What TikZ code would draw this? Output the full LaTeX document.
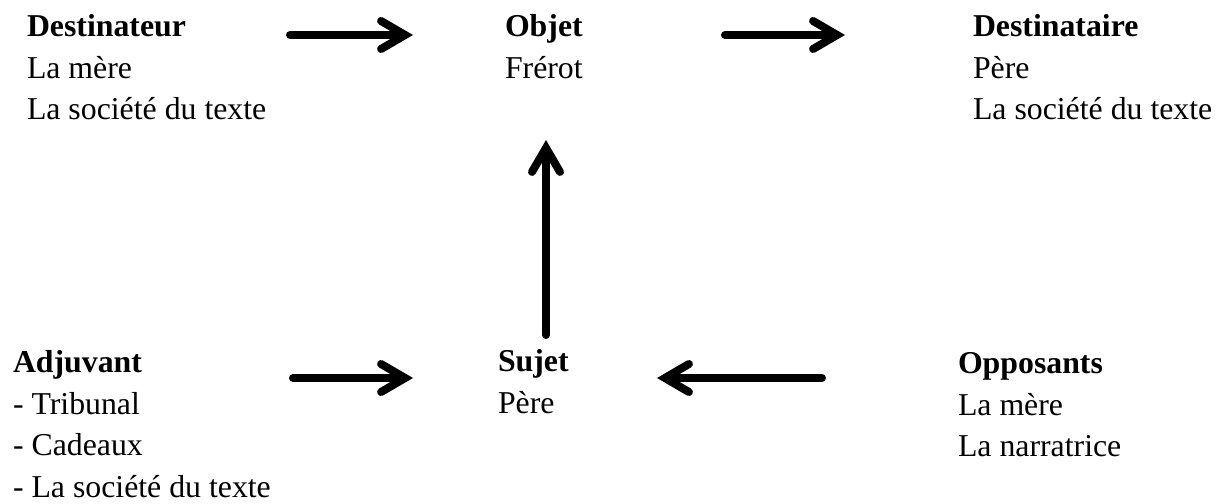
\documentclass[tikz,border=0pt]{standalone}
\usepackage{fontspec}
\setmainfont{Liberation Serif}
\usetikzlibrary{arrows.meta}

\tikzset{
  block/.style={anchor=base west, inner sep=0pt, outer sep=0pt,
    font=\fontsize{31.8bp}{41.5bp}\selectfont},
  arr/.style={line width=8bp, line cap=round,
    -{Straight Barb[length=24bp, width=28bp, line cap=round, line join=miter]}},
}

\newcommand{\actant}[2]{\begin{tabular}[t]{@{}l@{}}\textbf{#1}\\#2\end{tabular}}

\begin{document}
\begin{tikzpicture}[x=1bp, y=-1bp]
  \useasboundingbox (0,0) rectangle (1227,504);

  % actants of the model
  \node[block] (destinateur)  at (27,37)  {\actant{Destinateur}{La mère\\La société du texte}};
  \node[block] (objet)        at (505,37) {\actant{Objet}{Frérot}};
  \node[block] (destinataire) at (973,37) {\actant{Destinataire}{Père\\La société du texte}};
  \node[block] (adjuvant)     at (13,373) {\actant{Adjuvant}{- Tribunal\\- Cadeaux\\- La société du texte}};
  \node[block] (sujet)        at (498,372) {\actant{Sujet}{Père}};
  \node[block] (opposants)    at (958,374) {\actant{Opposants}{La mère\\La narratrice}};

  % arrow ends
  \coordinate (a1s) at (290,35);  \coordinate (a1e) at (413,35);
  \coordinate (a2s) at (725,35);  \coordinate (a2e) at (845,35);
  \coordinate (a3s) at (546,335); \coordinate (a3e) at (546,140);
  \coordinate (a4s) at (293,378); \coordinate (a4e) at (413,378);
  \coordinate (a5s) at (822,378); \coordinate (a5e) at (657,378);

  \draw[arr] (a1s) -- (a1e);
  \draw[arr] (a2s) -- (a2e);
  \draw[arr] (a3s) -- (a3e);
  \draw[arr] (a4s) -- (a4e);
  \draw[arr] (a5s) -- (a5e);
\end{tikzpicture}
\end{document}
